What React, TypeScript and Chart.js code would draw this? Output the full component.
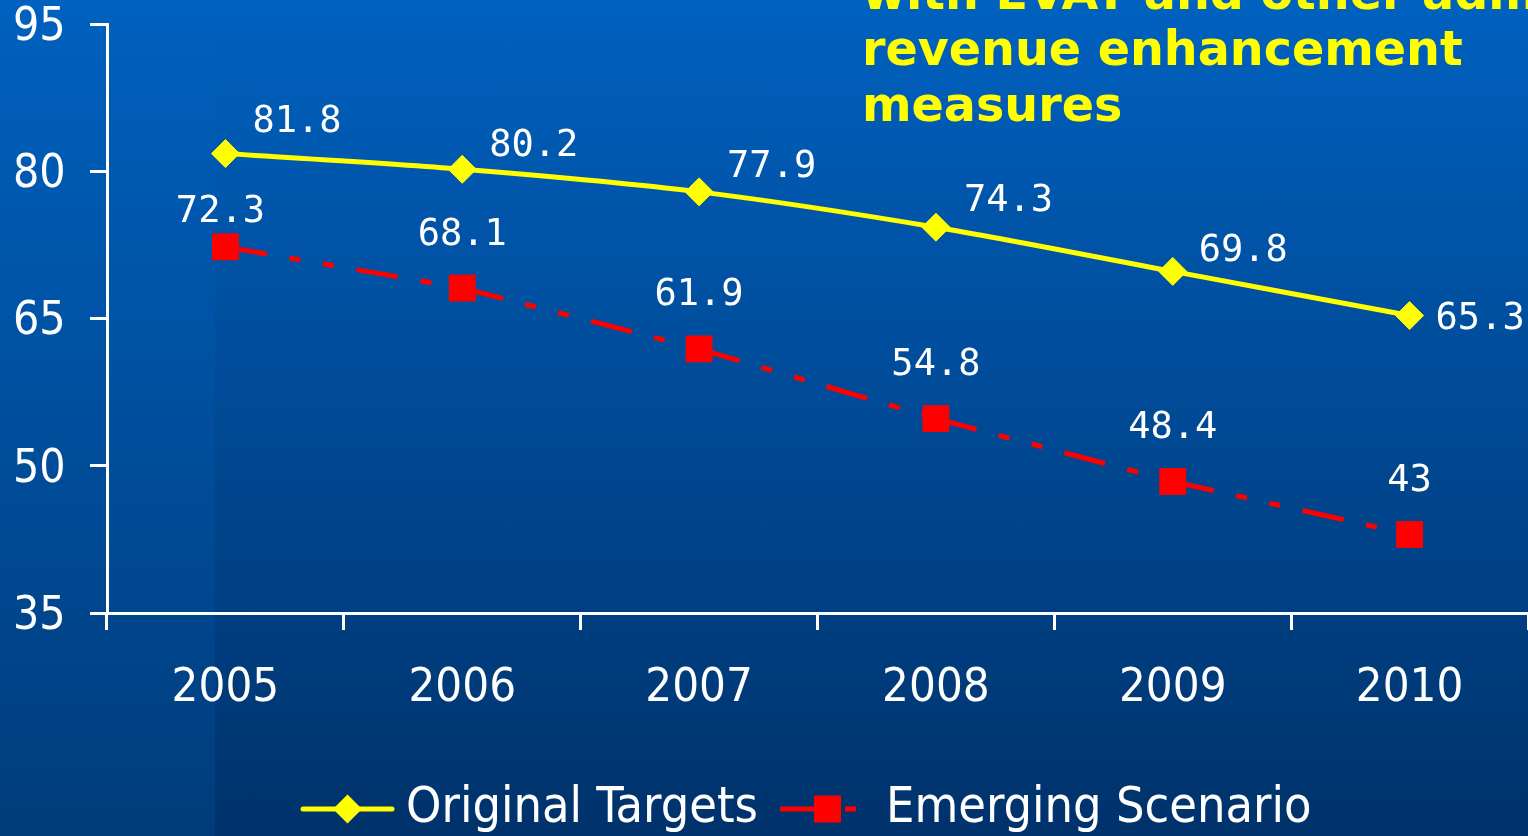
import React, { useEffect, useRef } from 'react';
import { Chart, registerables } from 'chart.js';

Chart.register(...registerables);

// ---- data ----
const years = ['2005', '2006', '2007', '2008', '2009', '2010'];
const originalTargets = [81.8, 80.2, 77.9, 74.3, 69.8, 65.3];
const emergingScenario = [72.3, 68.1, 61.9, 54.8, 48.4, 43];
const yTicks = [35, 50, 65, 80, 95];
const seriesNames = ['Original Targets', 'Emerging Scenario'];
const titleLines = ['with EVAT and other administrative', 'revenue enhancement', 'measures'];

// ---- label layout (offsets from each point, px) ----
const origLabelDx = [27, 27, 28, 28, 26, 26];
const origLabelDy = [-35, -27, -28, -30, -24, 0];
const emergLabelDx = [-5, 0, 0, 0, 0, 0];
const emergLabelDy = [-38, -57, -57, -57, -57, -57];

const YELLOW = '#FFFF00';
const RED = '#FF0000';
const SANS = '"DejaVu Sans Condensed", "DejaVu Sans", sans-serif';
const RED_DASH = [42, 23, 11, 23, 11, 23];
const LEGEND_FIRST_SYMBOL_X = 300; // left edge of first legend symbol
const LEGEND_SHIFT_Y = 2;

function makeLegendSymbol(kind: 'yellow' | 'red'): HTMLCanvasElement {
  const c = document.createElement('canvas');
  c.width = 95;
  c.height = 30;
  const ctx = c.getContext('2d')!;
  if (kind === 'yellow') {
    ctx.strokeStyle = YELLOW;
    ctx.lineWidth = 5;
    ctx.lineCap = 'round';
    ctx.beginPath();
    ctx.moveTo(3, 15);
    ctx.lineTo(92, 15);
    ctx.stroke();
    ctx.fillStyle = YELLOW;
    ctx.beginPath();
    ctx.moveTo(47.5, 0.5);
    ctx.lineTo(62, 15);
    ctx.lineTo(47.5, 29.5);
    ctx.lineTo(33, 15);
    ctx.closePath();
    ctx.fill();
  } else {
    ctx.strokeStyle = RED;
    ctx.lineWidth = 5;
    ctx.setLineDash([42, 23, 11, 23]);
    ctx.beginPath();
    ctx.moveTo(0, 15);
    ctx.lineTo(95, 15);
    ctx.stroke();
    ctx.fillStyle = RED;
    ctx.fillRect(34, 1.5, 27, 27);
  }
  return c;
}

const dataLabelPlugin = {
  id: 'dataLabels',
  afterDatasetsDraw(chart: any) {
    const ctx = chart.ctx;
    ctx.save();
    ctx.font = '37px "DejaVu Sans Mono", monospace';
    ctx.fillStyle = '#FFFFFF';
    ctx.textBaseline = 'alphabetic';
    const inkShift = 0.3645 * 37;
    chart.data.datasets.forEach((ds: any, di: number) => {
      const meta = chart.getDatasetMeta(di);
      meta.data.forEach((pt: any, i: number) => {
        const txt = String(ds.data[i]);
        if (di === 0) {
          ctx.textAlign = 'left';
          ctx.fillText(txt, pt.x + origLabelDx[i], pt.y + origLabelDy[i] + inkShift);
        } else {
          ctx.textAlign = 'center';
          ctx.fillText(txt, pt.x + emergLabelDx[i], pt.y + emergLabelDy[i] + inkShift);
        }
      });
    });
    ctx.restore();
  },
};

// moves the legend block so that its first symbol starts where the reference has it
const legendPlacePlugin = {
  id: 'legendPlace',
  afterLayout(chart: any) {
    const l = chart.legend;
    if (!l || !l.lineWidths) return;
    const pad = l.options.labels.padding;
    const boxW = l.options.labels.pointStyleWidth;
    const x0 = (l.left + pad + l.right - l.lineWidths[0]) / 2;
    const target = LEGEND_FIRST_SYMBOL_X + 47.5 - boxW / 2;
    const dx = target - x0;
    l.left += dx;
    l.right += dx;
    l.top += LEGEND_SHIFT_Y;
    l.bottom += LEGEND_SHIFT_Y;
  },
};

export default function App() {
  const canvasRef = useRef<HTMLCanvasElement | null>(null);

  useEffect(() => {
    if (!canvasRef.current) return;
    const legendSymbols = [makeLegendSymbol('yellow'), makeLegendSymbol('red')];
    const chart = new Chart(canvasRef.current, {
      type: 'line',
      data: {
        labels: years,
        datasets: [
          {
            label: seriesNames[0],
            data: originalTargets,
            borderColor: YELLOW,
            backgroundColor: YELLOW,
            borderWidth: 5,
            tension: 0.3,
            pointStyle: 'rectRot',
            pointRadius: 14,
            pointHoverRadius: 14,
            pointBackgroundColor: YELLOW,
            pointBorderColor: YELLOW,
            pointBorderWidth: 1,
          },
          {
            label: seriesNames[1],
            data: emergingScenario,
            borderColor: RED,
            backgroundColor: RED,
            borderWidth: 5,
            borderDash: RED_DASH,
            tension: 0,
            pointStyle: 'rect',
            pointRadius: 19,
            pointHoverRadius: 19,
            pointBackgroundColor: RED,
            pointBorderColor: RED,
            pointBorderWidth: 0,
            segment: {
              borderDash: () => RED_DASH,
              borderDashOffset: (c: any) => c.p0DataIndex * 0.000001,
            },
          } as any,
        ],
      },
      options: {
        responsive: false,
        maintainAspectRatio: false,
        animation: false,
        devicePixelRatio: 1,
        layout: { autoPadding: false, padding: { left: 13, top: 24, right: 0, bottom: -6 } },
        plugins: {
          title: { display: false },
          tooltip: { enabled: false },
          legend: {
            display: true,
            position: 'bottom',
            labels: {
              color: '#FFFFFF',
              font: { family: SANS, size: 50 },
              usePointStyle: true,
              pointStyleWidth: 67,
              padding: 36,
              generateLabels: (ch: any) => {
                const items = Chart.defaults.plugins.legend.labels.generateLabels(ch);
                return items.map((it: any, i: number) => ({ ...it, pointStyle: legendSymbols[i] }));
              },
            },
          },
        },
        scales: {
          x: {
            type: 'category',
            offset: true,
            grid: {
              offset: true,
              drawOnChartArea: false,
              drawTicks: true,
              tickLength: 17,
              color: '#FFFFFF',
              lineWidth: 3,
            },
            border: { display: true, color: '#FFFFFF', width: 3 },
            ticks: {
              color: '#FFFFFF',
              font: { family: SANS, size: 47, lineHeight: 1.2 },
              padding: 31,
              maxRotation: 0,
              autoSkip: false,
            },
            afterFit: (s: any) => {
              s.height = 133;
            },
          },
          y: {
            min: 35,
            max: 95,
            grid: {
              drawOnChartArea: false,
              drawTicks: true,
              tickLength: 17,
              color: '#FFFFFF',
              lineWidth: 3,
            },
            border: { display: true, color: '#FFFFFF', width: 3 },
            ticks: {
              color: '#FFFFFF',
              font: { family: SANS, size: 46, lineHeight: 1.0 },
              padding: 0,
              crossAlign: 'far',
              labelOffset: 4,
            },
            afterBuildTicks: (s: any) => {
              s.ticks = yTicks.map((v) => ({ value: v }));
            },
            afterFit: (s: any) => {
              s.width = 94;
            },
          },
        },
      },
      plugins: [dataLabelPlugin, legendPlacePlugin],
    } as any);
    return () => chart.destroy();
  }, []);

  return (
    <div
      style={{
        position: 'fixed',
        left: 0,
        top: 0,
        width: 1528,
        height: 836,
        overflow: 'hidden',
        background: 'linear-gradient(to bottom, #0061BF, #00326B)',
      }}
    >
      <div
        style={{
          position: 'absolute',
          left: 0,
          top: 0,
          width: 215,
          height: 836,
          background: 'linear-gradient(to bottom, #0061BF, #003C7B)',
        }}
      />
      <canvas
        ref={canvasRef}
        width={1528}
        height={836}
        style={{ position: 'absolute', left: 0, top: 0, display: 'block' }}
      />
      <div
        style={{
          position: 'absolute',
          left: 862,
          top: -35,
          font: 'bold 47.6px "DejaVu Sans", sans-serif',
          lineHeight: '56px',
          color: YELLOW,
          whiteSpace: 'pre',
        }}
      >
        {titleLines.join('\n')}
      </div>
    </div>
  );
}
